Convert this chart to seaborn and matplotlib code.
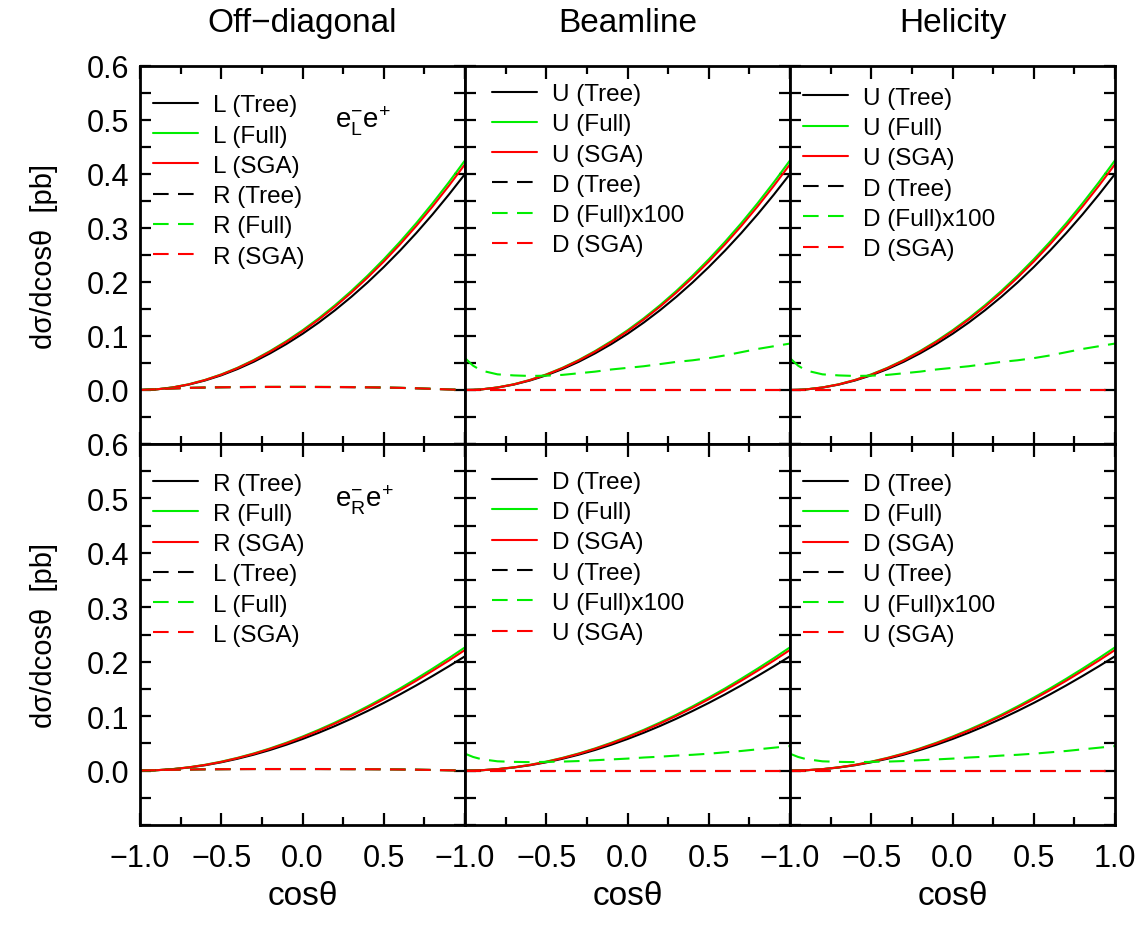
import matplotlib
matplotlib.use('Agg')
import matplotlib.pyplot as plt
import seaborn as sns
from matplotlib.ticker import MultipleLocator

sns.set_theme(style='ticks')
plt.rcParams['font.family'] = ['Liberation Sans', 'DejaVu Sans']
plt.rcParams['mathtext.fontset'] = 'custom'
plt.rcParams['mathtext.rm'] = 'Liberation Sans'
plt.rcParams['mathtext.it'] = 'Liberation Sans'
plt.rcParams['text.color'] = 'black'
plt.rcParams['axes.labelcolor'] = 'black'
plt.rcParams['xtick.color'] = 'black'
plt.rcParams['ytick.color'] = 'black'

# cos(theta) sample points
cos_theta = [-1.0, -0.95, -0.9, -0.8, -0.7, -0.6, -0.5, -0.4, -0.3, -0.2, -0.1,
             0.0, 0.1, 0.2, 0.3, 0.4, 0.5, 0.6, 0.7, 0.8, 0.9, 1.0]

# e-_L e+ : dominant polarisation (top row)
top_tree = [0.0, 0.0003, 0.0011, 0.0045, 0.0100, 0.0176, 0.0272, 0.0388, 0.0523, 0.0678, 0.0850,
            0.1040, 0.1249, 0.1477, 0.1724, 0.1990, 0.2276, 0.2581, 0.2906, 0.3251, 0.3616, 0.4000]
top_full = [0.0, 0.0003, 0.0012, 0.0048, 0.0106, 0.0187, 0.0289, 0.0412, 0.0556, 0.0721, 0.0904,
            0.1106, 0.1328, 0.1570, 0.1833, 0.2116, 0.2420, 0.2744, 0.3089, 0.3456, 0.3844, 0.4252]
top_sga = [0.0, 0.0003, 0.0011, 0.0047, 0.0104, 0.0184, 0.0284, 0.0405, 0.0547, 0.0709, 0.0888,
           0.1087, 0.1305, 0.1543, 0.1802, 0.2080, 0.2378, 0.2697, 0.3037, 0.3397, 0.3779, 0.4180]
# off-diagonal minor polarisation (top row)
top_minor_tree = [0.0, 0.0008, 0.0015, 0.0028, 0.0038, 0.0045, 0.0050, 0.0053, 0.0055, 0.0056, 0.0056,
                  0.0056, 0.0055, 0.0054, 0.0052, 0.0049, 0.0045, 0.0039, 0.0031, 0.0021, 0.0010, 0.0]
top_minor_full = [0.0, 0.0009, 0.0016, 0.0030, 0.0040, 0.0047, 0.0052, 0.0055, 0.0057, 0.0058, 0.0059,
                  0.0059, 0.0058, 0.0057, 0.0055, 0.0052, 0.0047, 0.0041, 0.0033, 0.0022, 0.0011, 0.0]
top_minor_sga = [0.0, 0.0008, 0.0015, 0.0029, 0.0039, 0.0046, 0.0051, 0.0054, 0.0056, 0.0057, 0.0057,
                 0.0057, 0.0056, 0.0055, 0.0053, 0.0050, 0.0046, 0.0040, 0.0032, 0.0021, 0.0010, 0.0]
# D (Full) x100, top row
top_d_full = [0.059, 0.045, 0.036, 0.029, 0.027, 0.026, 0.0265, 0.028, 0.031, 0.034, 0.038,
              0.041, 0.044, 0.048, 0.052, 0.055, 0.059, 0.064, 0.070, 0.076, 0.081, 0.086]

# e-_R e+ : dominant polarisation (bottom row)
bot_tree = [0.0, 0.0002, 0.0006, 0.0025, 0.0056, 0.0098, 0.0152, 0.0217, 0.0292, 0.0378, 0.0474,
            0.0580, 0.0695, 0.0819, 0.0952, 0.1094, 0.1243, 0.1400, 0.1565, 0.1737, 0.1915, 0.2100]
bot_full = [0.0, 0.0002, 0.0006, 0.0027, 0.0060, 0.0106, 0.0164, 0.0234, 0.0315, 0.0407, 0.0511,
            0.0625, 0.0749, 0.0883, 0.1026, 0.1179, 0.1340, 0.1509, 0.1687, 0.1872, 0.2064, 0.2264]
bot_sga = [0.0, 0.0002, 0.0006, 0.0026, 0.0059, 0.0103, 0.0160, 0.0229, 0.0308, 0.0399, 0.0500,
           0.0612, 0.0733, 0.0864, 0.1004, 0.1154, 0.1311, 0.1477, 0.1651, 0.1833, 0.2020, 0.2216]
bot_minor_tree = [0.0, 0.0004, 0.0008, 0.0014, 0.0019, 0.0023, 0.0025, 0.0027, 0.0028, 0.0028, 0.0028,
                  0.0028, 0.0028, 0.0027, 0.0026, 0.0025, 0.0023, 0.0020, 0.0016, 0.0011, 0.0005, 0.0]
bot_minor_full = [0.0, 0.0004, 0.0008, 0.0015, 0.0020, 0.0024, 0.0026, 0.0028, 0.0029, 0.0029, 0.0029,
                  0.0029, 0.0029, 0.0028, 0.0027, 0.0026, 0.0024, 0.0021, 0.0017, 0.0011, 0.0006, 0.0]
bot_minor_sga = [0.0, 0.0004, 0.0008, 0.0014, 0.0019, 0.0023, 0.0025, 0.0027, 0.0028, 0.0028, 0.0028,
                 0.0028, 0.0028, 0.0027, 0.0026, 0.0025, 0.0023, 0.0020, 0.0016, 0.0011, 0.0005, 0.0]
bot_d_full = [0.031, 0.025, 0.021, 0.017, 0.016, 0.0155, 0.016, 0.0165, 0.0175, 0.019, 0.0205,
              0.022, 0.024, 0.0255, 0.0275, 0.029, 0.031, 0.0335, 0.036, 0.039, 0.042, 0.045]

# D (Tree) and D (SGA) vanish in beamline / helicity bases
zero_line = [0.0, 0.0, 0.0, 0.0, 0.0, 0.0, 0.0, 0.0, 0.0, 0.0, 0.0,
             0.0, 0.0, 0.0, 0.0, 0.0, 0.0, 0.0, 0.0, 0.0, 0.0, 0.0]

col_titles = ['Off\u2212diagonal', 'Beamline', 'Helicity']

GREEN = '#00ee00'
RED = '#ff0000'
BLACK = '#000000'
DASH = (0, (7.5, 4.5))


def series(a, b, tag, main, minor):
    # returns list of (label, values, color, linestyle)
    m_tree, m_full, m_sga = minor
    return [
        (f'{a} (Tree)', main[0], BLACK, '-'),
        (f'{a} (Full)', main[1], GREEN, '-'),
        (f'{a} (SGA)', main[2], RED, '-'),
        (f'{b} (Tree)', m_tree, BLACK, DASH),
        (f'{b} (Full){tag}', m_full, GREEN, DASH),
        (f'{b} (SGA)', m_sga, RED, DASH),
    ]


top_main = (top_tree, top_full, top_sga)
bot_main = (bot_tree, bot_full, bot_sga)

panels = {
    (0, 0): series('L', 'R', '', top_main, (top_minor_tree, top_minor_full, top_minor_sga)),
    (0, 1): series('U', 'D', 'x100', top_main, (zero_line, top_d_full, zero_line)),
    (0, 2): series('U', 'D', 'x100', top_main, (zero_line, top_d_full, zero_line)),
    (1, 0): series('R', 'L', '', bot_main, (bot_minor_tree, bot_minor_full, bot_minor_sga)),
    (1, 1): series('D', 'U', 'x100', bot_main, (zero_line, bot_d_full, zero_line)),
    (1, 2): series('D', 'U', 'x100', bot_main, (zero_line, bot_d_full, zero_line)),
}

# legend anchors (axes coords)
legend_anchor = {
    (0, 0): (0.04, 0.925), (0, 1): (0.083, 0.955), (0, 2): (0.04, 0.945),
    (1, 0): (0.04, 0.925), (1, 1): (0.083, 0.93), (1, 2): (0.04, 0.925),
}

W, H = 1148, 928
fig = plt.figure(figsize=(W / 100, H / 100), dpi=100)
fig.patch.set_facecolor('white')

left, pw = 140 / W, 325 / W
rows = [(1 - 445 / H, 378 / H), (1 - 826 / H, 381 / H)]

for (r, c), lines in panels.items():
    b, h = rows[r]
    ax = fig.add_axes([left + c * pw, b, pw, h])
    for label, vals, color, ls in lines:
        sns.lineplot(x=cos_theta, y=vals, ax=ax, color=color, linestyle=ls,
                     linewidth=1.5, label=label, sort=False)
    ax.set_xlim(-1, 1)
    ax.set_ylim(-0.1, 0.6)
    ax.xaxis.set_major_locator(MultipleLocator(0.5))
    ax.xaxis.set_minor_locator(MultipleLocator(0.25))
    ax.set_yticks([0.0, 0.1, 0.2, 0.3, 0.4, 0.5, 0.6])
    ax.yaxis.set_minor_locator(MultipleLocator(0.05))
    ax.tick_params(axis='both', which='both', direction='in', top=True, right=True,
                   width=1.6, labelsize=22, colors='black')
    ax.tick_params(axis='x', which='major', length=9, pad=13)
    ax.tick_params(axis='x', which='minor', length=6)
    ax.tick_params(axis='y', which='both', length=8, pad=8)
    for sp in ax.spines.values():
        sp.set_linewidth(2)
        sp.set_color('black')
    ax.set_xlabel('')
    ax.set_ylabel('')

    if c == 0:
        ax.set_yticklabels(['0.0', '0.1', '0.2', '0.3', '0.4', '0.5', '0.6'])
        ax.set_ylabel('d\u03c3/dcos\u03b8  [pb]', fontsize=21, labelpad=20)
    else:
        ax.set_yticklabels([])

    ax.set_xticks([-1.0, -0.5, 0.0, 0.5, 1.0])
    if r == 1:
        xl = ['\u22121.0', '\u22120.5', '0.0', '0.5', '1.0' if c == 2 else '']
        ax.set_xticklabels(xl)
        ax.set_xlabel('cos\u03b8', fontsize=24, labelpad=5)
    else:
        ax.set_xticklabels([])
        ax.set_title(col_titles[c], fontsize=24, pad=25)

    ax.legend(loc='upper left', bbox_to_anchor=legend_anchor[(r, c)], frameon=False,
              fontsize=17.5, handlelength=1.85, handletextpad=0.6, labelspacing=0.34,
              borderaxespad=0, borderpad=0)

    if c == 0:
        txt = r'$\mathrm{e}^{-}_{\mathrm{L}}\mathrm{e}^{+}$' if r == 0 else r'$\mathrm{e}^{-}_{\mathrm{R}}\mathrm{e}^{+}$'
        ax.text(0.6, 0.855, txt, transform=ax.transAxes, fontsize=20, ha='left', va='center')

fig.savefig('out.png', dpi=100, facecolor='white')
